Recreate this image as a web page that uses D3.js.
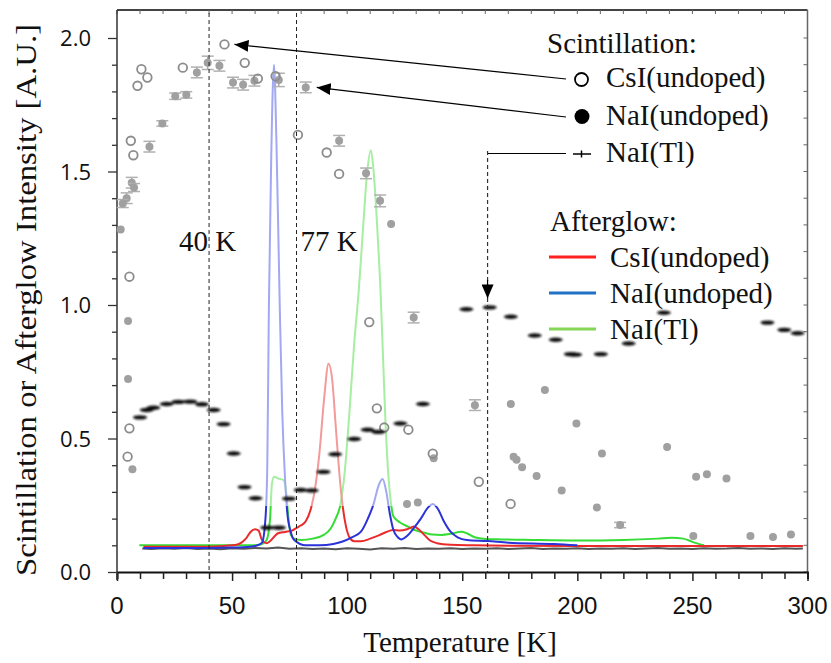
<!DOCTYPE html>
<html><head><meta charset="utf-8">
<script src="https://cdn.jsdelivr.net/npm/d3@7"></script>
<style>body{margin:0;background:#fff}svg{display:block}</style>
</head><body>
<svg id="c" width="831" height="663"></svg>
<script>
// ---------- data ----------
const xTicks = [0, 50, 100, 150, 200, 250, 300];
const yTicks = [0.0, 0.5, 1.0, 1.5, 2.0];

// Scintillation CsI(undoped) – open circles
const csiT = [46.7, 55.5, 28.6, 10.6, 13.2, 8.9, 61.2, 68.9, 78.6, 91.1, 96.5, 6.0, 7.1, 5.4, 5.4, 4.6, 109.6, 112.9, 116.1, 126.6, 137.2, 157.2, 171.0];
const csiV = [1.976, 1.907, 1.889, 1.883, 1.852, 1.821, 1.848, 1.857, 1.637, 1.571, 1.491, 1.615, 1.561, 1.106, 0.538, 0.432, 0.936, 0.613, 0.541, 0.533, 0.443, 0.338, 0.255];

// Scintillation NaI(undoped) – filled gray circles
const naiT = [39.4, 44.5, 34.7, 50.4, 54.8, 59.7, 70.3, 82.0, 30.1, 25.3, 19.7, 14.1, 6.4, 7.4, 4.2, 2.5, 1.6,
  96.5, 108.2, 114.3, 119.1, 4.8, 4.8, 6.7,
  128.9, 155.5, 171.1, 185.9, 137.6, 172.3, 173.6, 176.0, 182.3, 130.7, 126.0,
  199.6, 210.7, 239.0, 251.6, 256.3, 264.8, 193.2, 208.5, 218.6, 250.4, 275.2, 285.0, 292.8];
const naiV = [1.907, 1.896, 1.871, 1.833, 1.825, 1.840, 1.843, 1.815, 1.787, 1.782, 1.680, 1.593, 1.458, 1.440, 1.400, 1.380, 1.283,
  1.615, 1.493, 1.390, 1.303, 0.940, 0.723, 0.385,
  0.953, 0.625, 0.629, 0.682, 0.426, 0.432, 0.420, 0.392, 0.360, 0.260, 0.255,
  0.556, 0.444, 0.468, 0.357, 0.366, 0.350, 0.305, 0.242, 0.176, 0.135, 0.135, 0.131, 0.140];
const naiErr = [0.025, 0.02, 0.02, 0.02, 0.02, 0.02, 0.025, 0.02, 0.012, 0.012, 0.01, 0.02, 0.02, 0.015, 0.02, 0.015, 0,
  0.02, 0.02, 0.022, 0, 0, 0, 0,
  0.02, 0.02, 0, 0, 0, 0, 0, 0, 0, 0, 0,
  0, 0, 0, 0, 0, 0, 0, 0, 0.01, 0, 0, 0, 0];

// Scintillation NaI(Tl) – black dashes
const tlT = [10, 12.9, 15.8, 21.6, 26.7, 31.8, 36.9, 42, 46.3, 50.7, 55.4, 60.2, 65.3, 70.3, 74.7, 79.8, 84.6, 89.7, 94.8,
  103.1, 108.9, 113.5, 123.1, 132.9, 151.8, 161.9, 171.1, 181.5, 190.6, 197.2, 199.0, 210.2, 222.3, 237.6, 282.6, 289.9, 295.7];
const tlV = [0.579, 0.607, 0.615, 0.629, 0.637, 0.638, 0.628, 0.607, 0.554, 0.444, 0.318, 0.276, 0.166, 0.166, 0.275, 0.307, 0.305, 0.375, 0.441,
  0.498, 0.533, 0.525, 0.556, 0.629, 0.984, 0.991, 0.956, 0.886, 0.870, 0.816, 0.814, 0.816, 0.856, 0.971, 0.934, 0.907, 0.894];

// Afterglow CsI(undoped) – red
const redT = [11.5, 20, 30, 40, 50, 53, 56, 58, 60, 61.5, 63, 65, 70, 73, 76, 78, 80, 82, 84, 86, 88, 90, 91.9, 93.5, 95, 96.5, 98, 99.5, 101, 103, 106, 110, 114, 117, 120, 123, 126, 129, 131, 133.5, 136, 139, 145, 155, 170, 200, 250, 298];
const redV = [0.095, 0.095, 0.095, 0.095, 0.1, 0.105, 0.125, 0.15, 0.16, 0.155, 0.12, 0.108, 0.145, 0.15, 0.155, 0.165, 0.175, 0.19, 0.23, 0.31, 0.45, 0.65, 0.78, 0.72, 0.55, 0.38, 0.25, 0.17, 0.13, 0.115, 0.115, 0.125, 0.138, 0.15, 0.157, 0.155, 0.16, 0.17, 0.16, 0.139, 0.118, 0.108, 0.102, 0.1, 0.098, 0.097, 0.097, 0.097];

// Afterglow NaI(undoped) – blue
const blueT = [11.5, 30, 50, 58, 61, 63, 64.5, 65.3, 66, 67, 68.2, 69.3, 70.7, 71.8, 73, 74, 75.5, 77, 82, 88, 94, 98, 102, 106, 109, 111.6, 113.5, 115.4, 117, 118.5, 120, 122, 123.4, 126, 129, 132, 135, 137.2, 139.5, 142, 145, 148, 152, 161, 170, 190, 200];
const blueV = [0.09, 0.09, 0.092, 0.095, 0.1, 0.11, 0.2, 0.4, 1.0, 1.55, 1.9, 1.6, 1.0, 0.6, 0.35, 0.22, 0.15, 0.12, 0.1, 0.1, 0.105, 0.114, 0.13, 0.151, 0.2, 0.258, 0.32, 0.348, 0.3, 0.22, 0.16, 0.13, 0.122, 0.135, 0.165, 0.2, 0.24, 0.255, 0.235, 0.19, 0.15, 0.13, 0.12, 0.116, 0.11, 0.105, 0.1];

// Afterglow NaI(Tl) – green
const greenT = [9.7, 20, 40, 55, 60, 63, 65, 66.5, 67.3, 68.2, 70, 72.2, 73.5, 74.5, 75.5, 77, 80, 85, 90, 93, 95, 97, 99, 101, 103, 105, 107, 108.5, 110.3, 111.5, 113, 114.5, 115.6, 116.7, 118, 119, 120, 121.5, 124, 126.4, 130, 133.6, 137, 141, 145, 149.6, 152, 155.4, 160, 167, 180, 200, 220, 235, 241, 246, 250, 255];
const greenV = [0.1, 0.1, 0.1, 0.1, 0.1, 0.105, 0.12, 0.2, 0.33, 0.357, 0.35, 0.345, 0.3, 0.2, 0.14, 0.125, 0.12, 0.125, 0.14, 0.165, 0.2, 0.25, 0.38, 0.6, 0.85, 1.05, 1.3, 1.48, 1.58, 1.5, 1.3, 1.05, 0.8, 0.55, 0.35, 0.26, 0.21, 0.195, 0.18, 0.17, 0.155, 0.147, 0.14, 0.139, 0.143, 0.151, 0.145, 0.13, 0.124, 0.122, 0.12, 0.118, 0.12, 0.125, 0.128, 0.125, 0.113, 0.1];

// Background – dark gray
const baseT = [11, 15, 20, 25, 30, 35, 40, 45, 50, 55, 60, 65, 70, 75, 80, 85, 90, 95, 100, 105, 110, 115, 120, 125, 130, 135, 140, 145, 150, 155, 160, 165, 170, 175, 180, 185, 190, 195, 200, 205, 210, 215, 220, 225, 230, 235, 240, 245, 250, 255, 260, 265, 270, 275, 280, 285, 290, 295, 298];
const baseV = [0.088, 0.086, 0.089, 0.087, 0.09, 0.086, 0.088, 0.085, 0.089, 0.087, 0.09, 0.088, 0.092, 0.087, 0.089, 0.086, 0.088, 0.085, 0.089, 0.087, 0.084, 0.089, 0.087, 0.09, 0.086, 0.088, 0.087, 0.089, 0.086, 0.088, 0.087, 0.089, 0.086, 0.088, 0.09, 0.086, 0.088, 0.087, 0.089, 0.086, 0.088, 0.087, 0.089, 0.086, 0.088, 0.09, 0.087, 0.088, 0.086, 0.089, 0.087, 0.088, 0.09, 0.087, 0.088, 0.086, 0.089, 0.087, 0.088];

// annotations
const markT = [40, 78];
const markLabels = ["40 K", "77 K"];
const arrowT = 161;
const scintLegend = ["CsI(undoped)", "NaI(undoped)", "NaI(Tl)"];
const afterLegend = ["CsI(undoped)", "NaI(undoped)", "NaI(Tl)"];

// ---------- chart ----------
const svg = d3.select("#c");
const x = d3.scaleLinear().domain([0, 300]).range([117, 807.5]);
const y = d3.scaleLinear().domain([0, 2.0]).range([572, 38]);
const yTop = 10;
const serif = "'Liberation Serif','Times New Roman',serif";

const defs = svg.append("defs");
defs.append("clipPath").attr("id", "hi").append("rect")
  .attr("x", 0).attr("y", 0).attr("width", 831).attr("height", 506);
defs.append("clipPath").attr("id", "lo").append("rect")
  .attr("x", 0).attr("y", 506).attr("width", 831).attr("height", 200);
defs.append("filter").attr("id", "blur").attr("x", "-50%").attr("y", "-100%").attr("width", "200%").attr("height", "300%")
  .append("feGaussianBlur").attr("stdDeviation", 0.9);
defs.append("marker").attr("id", "arr").attr("viewBox", "0 0 14 12")
  .attr("refX", 14).attr("refY", 6).attr("markerWidth", 14).attr("markerHeight", 12)
  .attr("markerUnits", "userSpaceOnUse").attr("orient", "auto")
  .append("path").attr("d", "M0,0 L14,6 L0,12 Z").attr("fill", "#000");

// frame lines
svg.append("line").attr("x1", x(0)).attr("x2", x(300)).attr("y1", yTop).attr("y2", yTop)
  .attr("stroke", "#444").attr("stroke-width", 2);
svg.append("line").attr("x1", x(300)).attr("x2", x(300)).attr("y1", yTop).attr("y2", y(0))
  .attr("stroke", "#666").attr("stroke-width", 1.5);

// top and right inner ticks
const xMinor = d3.range(0, 301, 10);
const yMinor = d3.range(0, 21).map(d => d / 10);
svg.append("g").selectAll("line").data(xMinor).join("line")
  .attr("x1", d => x(d)).attr("x2", d => x(d)).attr("y1", yTop).attr("y2", yTop + 4)
  .attr("stroke", "#666").attr("stroke-width", 1);
svg.append("g").selectAll("line").data(yMinor).join("line")
  .attr("x1", x(300) - 4).attr("x2", x(300)).attr("y1", d => y(d)).attr("y2", d => y(d))
  .attr("stroke", "#666").attr("stroke-width", 1);

// bottom axis
const gx = svg.append("g").attr("transform", `translate(0,${y(0)})`);
gx.call(d3.axisBottom(x).tickValues(xMinor).tickSize(7).tickFormat(""));
gx.call(g => g.select(".domain").attr("stroke", "#111").attr("stroke-width", 2));
gx.selectAll(".tick line").attr("stroke", "#222").attr("stroke-width", 1.5)
  .attr("y2", d => d % 50 === 0 ? 9 : 7);
svg.append("g").selectAll("text").data(xTicks).join("text")
  .attr("x", d => x(d)).attr("y", 614).attr("text-anchor", "middle")
  .attr("font-family", "'Liberation Sans Narrow','Liberation Sans',Arial,sans-serif")
  .attr("font-size", 24).attr("fill", "#111").text(d => d);

// left axis
const gy = svg.append("g").attr("transform", `translate(${x(0)},0)`);
gy.call(d3.axisLeft(y).tickValues(yMinor).tickSize(5).tickFormat("").tickSizeOuter(0));
gy.select(".domain").remove();
gy.selectAll(".tick line").attr("stroke", "#333").attr("stroke-width", 1.3)
  .attr("x2", d => Math.abs(d * 2 - Math.round(d * 2)) < 1e-6 ? -9 : -5);
svg.append("line").attr("x1", x(0)).attr("x2", x(0)).attr("y1", yTop).attr("y2", y(0) + 8)
  .attr("stroke", "#333").attr("stroke-width", 1.5);
svg.append("g").selectAll("text").data(yTicks).join("text")
  .attr("x", 91).attr("y", d => y(d) + 8).attr("text-anchor", "end")
  .attr("font-family", "'Open Sans','Noto Sans',sans-serif")
  .attr("font-size", 22).attr("fill", "#111").text(d => d.toFixed(1));

// axis titles
svg.append("text").attr("x", 460).attr("y", 652).attr("text-anchor", "middle")
  .attr("font-family", serif).attr("font-size", 29).attr("fill", "#111").text("Temperature [K]");
svg.append("text").attr("transform", "translate(36,300) rotate(-90)").attr("text-anchor", "middle")
  .attr("font-family", serif).attr("font-size", 29).attr("fill", "#111")
  .attr("textLength", 552).attr("lengthAdjust", "spacingAndGlyphs")
  .text("Scintillation or Afterglow Intensity [A.U.]");

// afterglow lines
const line = d3.line().x(d => x(d[0])).y(d => y(d[1])).curve(d3.curveMonotoneX);
const zip = (a, b) => a.map((t, i) => [t, b[i]]);
svg.append("path").datum(zip(baseT, baseV)).attr("d", d3.line().x(d => x(d[0])).y(d => y(d[1])))
  .attr("fill", "none").attr("stroke", "#555").attr("stroke-width", 2);
const series = [
  {t: greenT, v: greenV, lo: "#35dc35", hi: "#a6eea0"},
  {t: redT, v: redV, lo: "#ea2a2a", hi: "#f39a9a"},
  {t: blueT, v: blueV, lo: "#2b33d8", hi: "#a3a8f2"}
];
series.forEach(s => {
  const data = zip(s.t, s.v);
  svg.append("path").datum(data).attr("d", line).attr("clip-path", "url(#hi)")
    .attr("fill", "none").attr("stroke", s.hi).attr("stroke-width", 2);
  svg.append("path").datum(data).attr("d", line).attr("clip-path", "url(#lo)")
    .attr("fill", "none").attr("stroke", s.lo).attr("stroke-width", 2);
});

// scintillation markers
const gN = svg.append("g");
zip(naiT, naiV).forEach((d, i) => {
  const cx = x(d[0]), cy = y(d[1]), e = naiErr[i];
  if (e > 0) {
    const dy = y(d[1] - e) - cy;
    gN.append("line").attr("x1", cx).attr("x2", cx).attr("y1", cy - dy).attr("y2", cy + dy)
      .attr("stroke", "#aaa").attr("stroke-width", 1.5);
    [-dy, dy].forEach(o => gN.append("line").attr("x1", cx - 6).attr("x2", cx + 6)
      .attr("y1", cy + o).attr("y2", cy + o).attr("stroke", "#b0b0b0").attr("stroke-width", 1.5));
  }
  gN.append("circle").attr("cx", cx).attr("cy", cy).attr("r", 4).attr("fill", "#a0a0a0");
});
svg.append("g").selectAll("circle").data(zip(csiT, csiV)).join("circle")
  .attr("cx", d => x(d[0])).attr("cy", d => y(d[1])).attr("r", 4.3)
  .attr("fill", "none").attr("stroke", "#8c8c8c").attr("stroke-width", 1.8);
svg.append("g").attr("filter", "url(#blur)").selectAll("ellipse").data(zip(tlT, tlV)).join("ellipse")
  .attr("cx", d => x(d[0])).attr("cy", d => y(d[1])).attr("rx", 7).attr("ry", 2.2).attr("fill", "#111");

// dashed temperature markers
svg.append("g").selectAll("line").data(markT).join("line")
  .attr("x1", d => x(d)).attr("x2", d => x(d)).attr("y1", yTop + 3).attr("y2", y(0))
  .attr("stroke", "#222").attr("stroke-width", 1).attr("stroke-dasharray", "4,3");
svg.append("g").selectAll("text").data(markT).join("text")
  .attr("x", (d, i) => i === 0 ? x(d) - 30 : x(d) + 4).attr("y", 251)
  .attr("font-family", serif).attr("font-size", 29).attr("fill", "#111")
  .text((d, i) => markLabels[i]);

// arrows from legend
svg.append("line").attr("x1", 566).attr("y1", 79).attr("x2", x(csiT[0]) + 10).attr("y2", y(csiV[0]))
  .attr("stroke", "#000").attr("stroke-width", 1.2).attr("marker-end", "url(#arr)");
svg.append("line").attr("x1", 566).attr("y1", 117).attr("x2", x(naiT[7]) + 11).attr("y2", y(naiV[7]))
  .attr("stroke", "#000").attr("stroke-width", 1.2).attr("marker-end", "url(#arr)");
svg.append("line").attr("x1", 566).attr("y1", 153.5).attr("x2", x(arrowT)).attr("y2", 153.5)
  .attr("stroke", "#000").attr("stroke-width", 1.2);
svg.append("line").attr("x1", x(arrowT)).attr("x2", x(arrowT)).attr("y1", 151).attr("y2", y(0))
  .attr("stroke", "#333").attr("stroke-width", 1.2).attr("stroke-dasharray", "4,3");
svg.append("line").attr("x1", x(arrowT)).attr("x2", x(arrowT)).attr("y1", 280).attr("y2", y(tlV[25]) - 9)
  .attr("stroke", "#000").attr("stroke-width", 1.2).attr("marker-end", "url(#arr)");

// legend
const lg = svg.append("g").attr("font-family", serif).attr("font-size", 29).attr("fill", "#111");
lg.append("text").attr("x", 547).attr("y", 53).text("Scintillation:");
lg.append("circle").attr("cx", 581.5).attr("cy", 79.5).attr("r", 6.5).attr("fill", "#fff").attr("stroke", "#000").attr("stroke-width", 1.8);
lg.append("circle").attr("cx", 582).attr("cy", 116.5).attr("r", 7.5).attr("fill", "#000");
lg.append("line").attr("x1", 573).attr("x2", 591).attr("y1", 154).attr("y2", 154).attr("stroke", "#000").attr("stroke-width", 1.5);
lg.append("line").attr("x1", 581.5).attr("x2", 581.5).attr("y1", 150.5).attr("y2", 157.5).attr("stroke", "#000").attr("stroke-width", 1.5);
[87, 125, 162].forEach((yy, i) => lg.append("text").attr("x", 606).attr("y", yy).text(scintLegend[i]));
lg.append("text").attr("x", 550).attr("y", 231).text("Afterglow:");
const lgCols = ["#ff2020", "#1f72c6", "#84d656"];
[257, 293, 329].forEach((yy, i) => {
  lg.append("line").attr("x1", 549).attr("x2", 596).attr("y1", yy).attr("y2", yy)
    .attr("stroke", lgCols[i]).attr("stroke-width", 3);
  lg.append("text").attr("x", 610).attr("y", yy + 10).text(afterLegend[i]);
});
</script>
</body></html>
